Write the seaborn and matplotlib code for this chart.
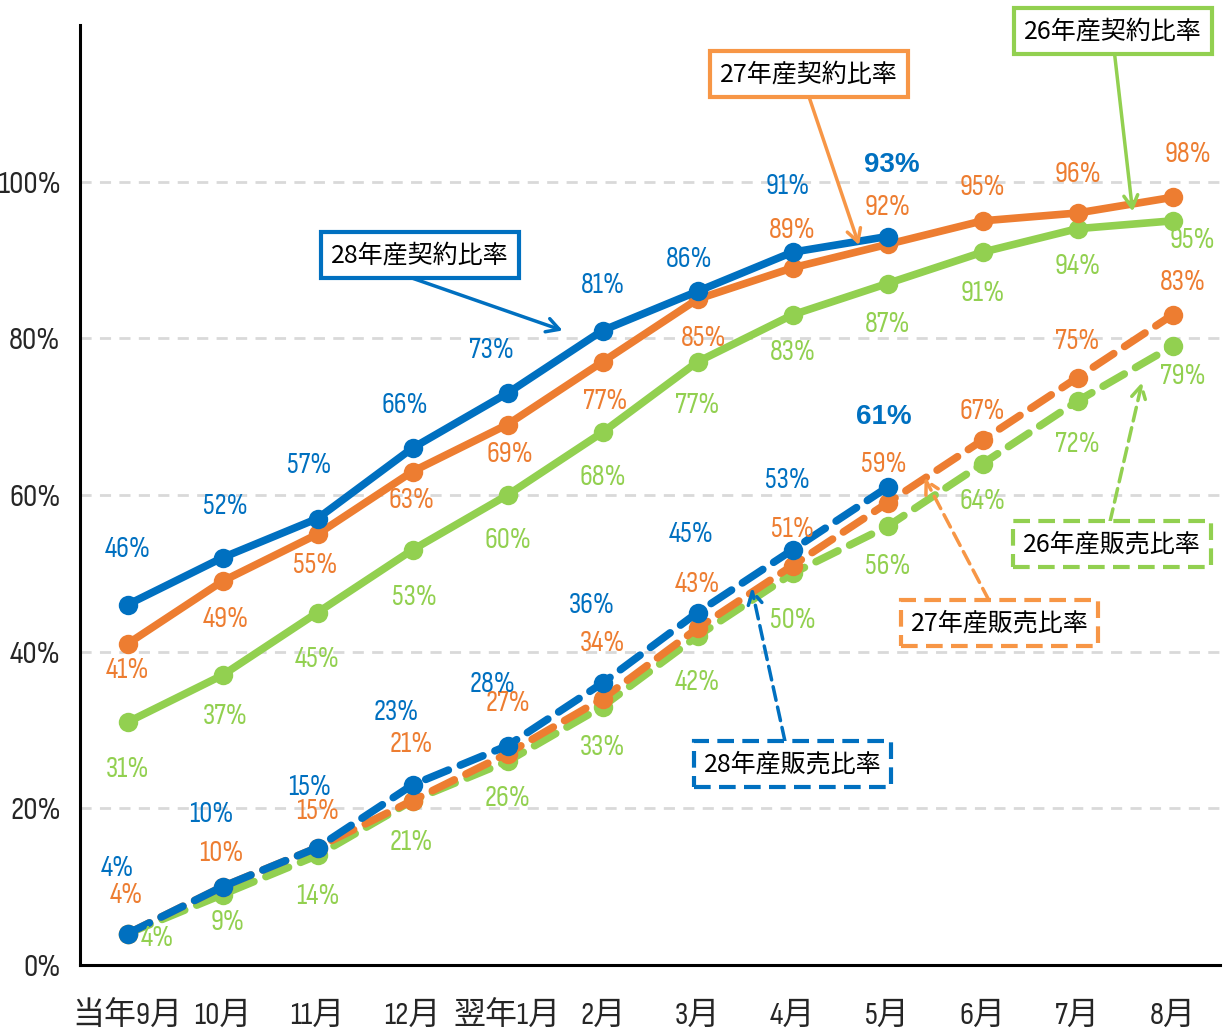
import numpy as np
import pandas as pd
import matplotlib
matplotlib.use("Agg")
import matplotlib.pyplot as plt
import seaborn as sns
from matplotlib import font_manager

months = ["当年9月", "10月", "11月", "12月", "翌年1月", "2月", "3月", "4月", "5月", "6月", "7月", "8月"]

# 契約比率 (solid lines), %
contract_28 = [46, 52, 57, 66, 73, 81, 86, 91, 93]
contract_27 = [41, 49, 55, 63, 69, 77, 85, 89, 92, 95, 96, 98]
contract_26 = [31, 37, 45, 53, 60, 68, 77, 83, 87, 91, 94, 95]

# 販売比率 (dashed lines), %
sales_28 = [4, 10, 15, 23, 28, 36, 45, 53, 61]
sales_27 = [4, 10, 15, 21, 27, 34, 43, 51, 59, 67, 75, 83]
sales_26 = [4, 9, 14, 21, 26, 33, 42, 50, 56, 64, 72, 79]

y_ticks = [0, 20, 40, 60, 80, 100]

BLUE = "#0070C0"
ORANGE = "#ED7D31"
GREEN = "#92D050"
BOX_ORANGE = "#F79646"

sns.set_style("white")
installed = {f.name for f in font_manager.fontManager.ttflist}
narrow = next((n for n in ["Sofia Sans Condensed", "Liberation Sans Narrow", "Roboto Condensed",
                           "Archivo Narrow", "Liberation Sans"] if n in installed), "DejaVu Sans")
NUM_FONT = [narrow, "Noto Sans CJK JP"]
plt.rcParams["font.family"] = ["Noto Sans CJK JP", "DejaVu Sans"]

fig = plt.figure(figsize=(12.29, 10.33), dpi=100)
ax = fig.add_axes([0.0651, 0.0658, 0.9276, 0.910])

# label offsets in pixels (dx, dy) relative to each point (dy up)
off_c28 = [(0, 55), (3, 51), (-8, 53), (-8, 43), (-16, 43), (0, 45), (-8, 32), (-5, 66), (4, 72)]
off_c27 = [(0, -27), (3, -38), (-2, -31), (-1, -29), (2, -30), (3, -40), (6, -39), (0, 37), (0, 37), (0, 33), (0, 39), (15, 43)]
off_c26 = [(0, -47), (3, -41), (0, -47), (2, -48), (0, -45), (0, -45), (0, -44), (0, -38), (0, -41), (0, -41), (0, -38), (20, -20)]
off_s28 = [(-10, 65), (-11, 72), (-8, 60), (-16, 72), (-15, 61), (-11, 78), (-6, 78), (-5, 69), (-4, 70)]
off_s27 = [(-1, 38), (-1, 33), (0, 36), (-1, 56), (0, 50), (0, 55), (0, 44), (0, 36), (-4, 38), (0, 29), (0, 36), (10, 32)]
off_s26 = [(30, -5), (5, -28), (0, -41), (-1, -42), (0, -37), (0, -41), (0, -46), (0, -47), (0, -40), (0, -38), (0, -43), (10, -30)]

dash_style = (0, (3.2, 1.7))

series = [
    (contract_26, GREEN, "-", off_c26),
    (sales_26, GREEN, dash_style, off_s26),
    (contract_27, ORANGE, "-", off_c27),
    (sales_27, ORANGE, dash_style, off_s27),
    (contract_28, BLUE, "-", off_c28),
    (sales_28, BLUE, dash_style, off_s28),
]

for vals, color, ls, offs in series:
    df = pd.DataFrame({"x": np.arange(len(vals)), "y": vals})
    sns.lineplot(data=df, x="x", y="y", ax=ax, color=color, marker="o",
                 markersize=14, markeredgewidth=0, linewidth=5.5)
    line = ax.lines[-1]
    line.set_linestyle(ls)
    line.set_dash_capstyle("round")
    line.set_solid_capstyle("round")
    for i, v in enumerate(vals):
        bold = color == BLUE and i == len(vals) - 1
        ax.annotate(f"{v}%", (i, v), xytext=offs[i], textcoords="offset pixels",
                    ha="center", va="center", color=color,
                    fontsize=20 if bold else 21,
                    fontweight="bold" if bold else "normal",
                    family=["Liberation Sans", "DejaVu Sans"] if bold else NUM_FONT)

ax.set_xlim(-0.5, 11.5)
ax.set_ylim(0, 120)
ax.set_xticks(np.arange(len(months)))
ax.set_xticklabels(months, family=NUM_FONT, fontsize=23)
ax.set_yticks(y_ticks)
ax.set_yticklabels([f"{t}%" for t in y_ticks], family=NUM_FONT, fontsize=23)
ax.tick_params(axis="x", length=0, pad=26)
ax.tick_params(axis="y", length=0, pad=14)
ax.set_xlabel("")
ax.set_ylabel("")
for t in y_ticks[1:]:
    ax.axhline(t, color="#D9D9D9", linewidth=2, linestyle=(0, (4, 3)), zorder=0)
for s in ["top", "right"]:
    ax.spines[s].set_visible(False)
for s in ["left", "bottom"]:
    ax.spines[s].set_color("black")
    ax.spines[s].set_linewidth(2.2)

# callouts: text, box center, arrow tip, arrow start (data coords), colour, dashed
callouts = [
    ("28年産契約比率", (3.08, 90.6), (4.58, 81.0), (2.97, 87.8), BLUE, False),
    ("27年産契約比率", (7.17, 113.7), (7.70, 91.9), (7.18, 110.6), BOX_ORANGE, False),
    ("26年産契約比率", (10.37, 119.2), (10.58, 96.2), (10.39, 116.3), GREEN, False),
    ("28年産販売比率", (7.00, 25.6), (6.57, 48.1), (6.92, 28.6), BLUE, True),
    ("27年産販売比率", (9.18, 43.6), (8.39, 62.2), (9.07, 46.5), BOX_ORANGE, True),
    ("26年産販売比率", (10.36, 53.7), (10.68, 74.4), (10.34, 56.5), GREEN, True),
]
for text, pos, tip, start, color, dashed in callouts:
    ls = (0, (4, 2)) if dashed else "-"
    ax.annotate("", xy=tip, xytext=start,
                arrowprops=dict(arrowstyle="->,head_length=0.9,head_width=0.5",
                                color=color, lw=2.5, linestyle=ls,
                                shrinkA=0, shrinkB=0), zorder=6)
    ax.text(pos[0], pos[1], text, ha="center", va="center", fontsize=18,
            color="black", zorder=7,
            bbox=dict(boxstyle="square,pad=0.4", facecolor="white",
                      edgecolor=color, linewidth=3, linestyle=ls))

fig.savefig("out.png", dpi=100)
